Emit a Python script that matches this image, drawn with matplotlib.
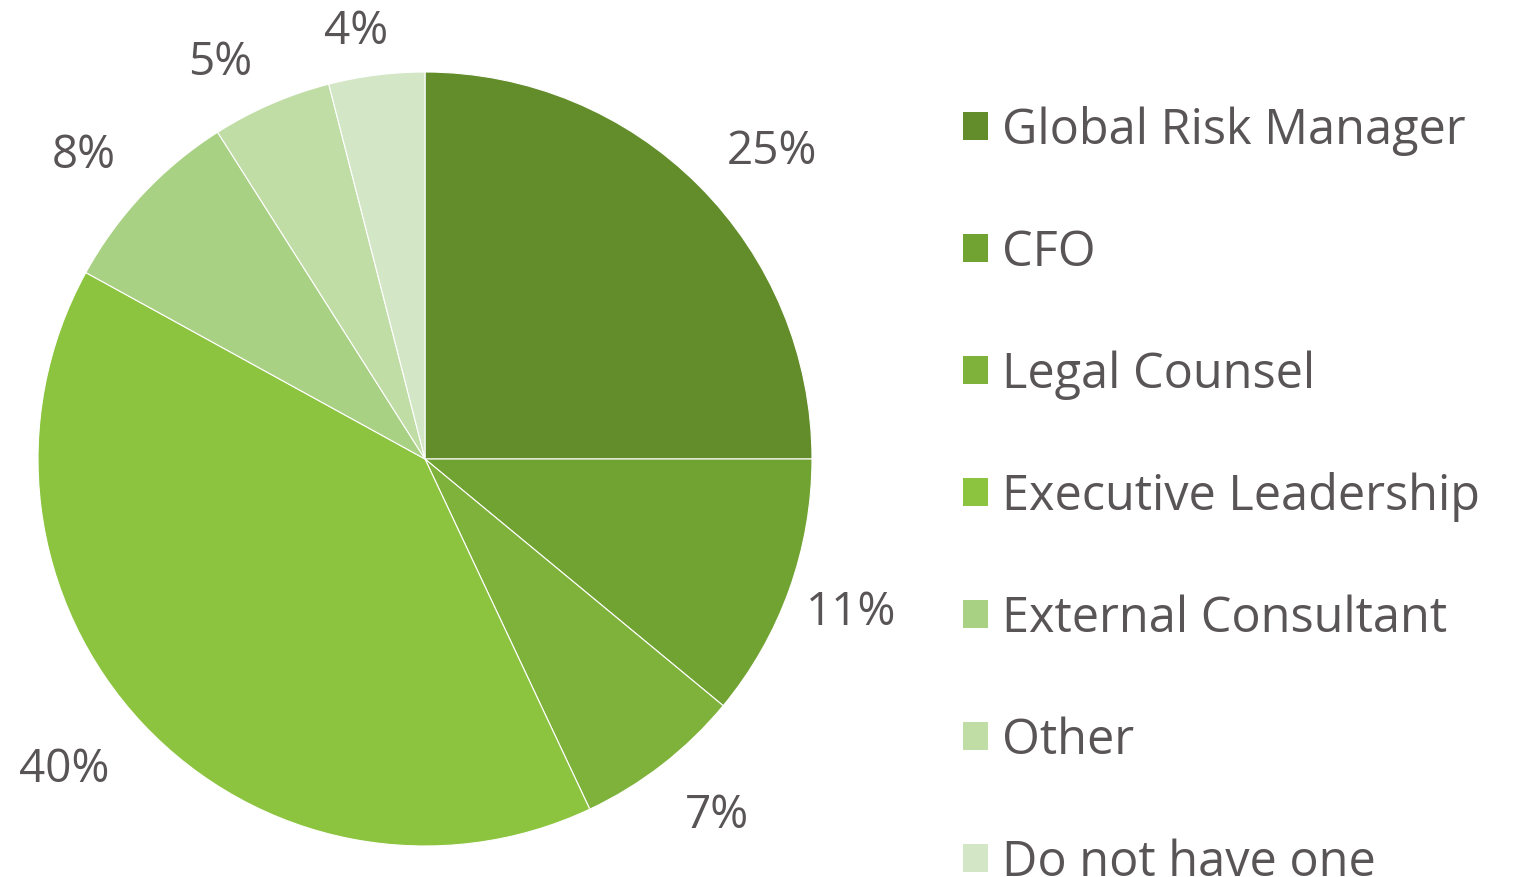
import matplotlib
matplotlib.use("Agg")
import numpy as np
import matplotlib.pyplot as plt
from matplotlib.patches import Patch

labels = ["Global Risk Manager", "CFO", "Legal Counsel", "Executive Leadership",
          "External Consultant", "Other", "Do not have one"]
values = [25, 11, 7, 40, 8, 5, 4]
colors = ["#638C2B", "#71A333", "#7FB23A", "#8CC43F", "#A9D184", "#C0DDA6", "#D3E6C6"]
text_color = "#595557"

# label placement tweaks: distance from centre (radii) and angle nudge (deg)
label_dist = [1.20, 1.17, 1.19, 1.23, 1.18, 1.155, 1.12]
label_nudge = [-3.4, 0.0, 1.5, -2.5, 1.5, 3.9, 1.9]

plt.rcParams["font.family"] = ["Open Sans", "DejaVu Sans"]

W, H = 1529, 878
fig = plt.figure(figsize=(W / 100, H / 100), dpi=100)

cx, cy, r = 425, 460, 387
ax = fig.add_axes([(cx - r) / W, (H - cy - r) / H, 2 * r / W, 2 * r / H])

wedges, texts = ax.pie(values, colors=colors, startangle=90, counterclock=False,
                       labels=[f"{v}%" for v in values], labeldistance=1.18,
                       wedgeprops=dict(edgecolor="white", linewidth=0.8),
                       textprops=dict(fontsize=33, color=text_color))
for w, t, d, n in zip(wedges, texts, label_dist, label_nudge):
    ang = np.deg2rad((w.theta1 + w.theta2) / 2 + n)
    t.set_position((d * np.cos(ang), d * np.sin(ang)))
    t.set_horizontalalignment("center")
    t.set_verticalalignment("center")
ax.set_xlim(-1, 1)
ax.set_ylim(-1, 1)
ax.set_aspect("equal")
ax.axis("off")

handles = [Patch(facecolor=c, edgecolor="none") for c in colors]
fig.legend(handles, labels, loc="upper left", bbox_to_anchor=(963 / W, 1 - 106 / H),
           frameon=False, fontsize=35, labelcolor=text_color,
           handlelength=0.51, handleheight=0.51, handletextpad=0.29,
           labelspacing=1.49, borderpad=0, borderaxespad=0)

fig.savefig("out.png", dpi=100, facecolor="white")
